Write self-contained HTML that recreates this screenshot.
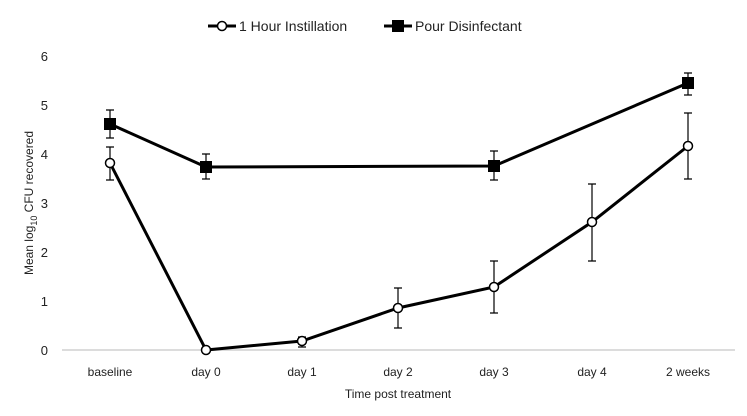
<!DOCTYPE html>
<html><head><meta charset="utf-8"><style>
body{margin:0;background:#fff}
svg{display:block;font-family:"Liberation Sans",sans-serif}
</style></head><body>
<svg width="747" height="416" viewBox="0 0 747 416">
<rect width="747" height="416" fill="#fff"/>
<line x1="62" y1="350" x2="735" y2="350" stroke="#d0d0d0" stroke-width="1.5"/>
<g font-size="13" fill="#222" text-anchor="end">
<text x="48" y="355">0</text><text x="48" y="306">1</text><text x="48" y="257">2</text>
<text x="48" y="208">3</text><text x="48" y="159">4</text><text x="48" y="110">5</text><text x="48" y="61">6</text>
</g>
<g font-size="12" fill="#222" text-anchor="middle">
<text x="110" y="376">baseline</text><text x="206" y="376">day 0</text><text x="302" y="376">day 1</text>
<text x="398" y="376">day 2</text><text x="494" y="376">day 3</text><text x="592" y="376">day 4</text><text x="688" y="376">2 weeks</text>
<text x="398" y="398">Time post treatment</text>
</g>
<text transform="translate(33,203) rotate(-90)" font-size="12" fill="#222" text-anchor="middle">Mean log<tspan font-size="9" dy="4">10</tspan><tspan dy="-4"> CFU recovered</tspan></text>
<g stroke="#000" stroke-width="1.2" fill="none">
<path d="M110 138V110M106 138h8M106 110h8"/>
<path d="M206 179V154M202 179h8M202 154h8"/>
<path d="M494 180V151M490 180h8M490 151h8"/>
<path d="M688 95V73M684 95h8M684 73h8"/>
<path d="M110 180V147M106 180h8M106 147h8"/>
<path d="M302 347V337M298 347h8M298 337h8"/>
<path d="M398 328V288M394 328h8M394 288h8"/>
<path d="M494 313V261M490 313h8M490 261h8"/>
<path d="M592 261V184M588 261h8M588 184h8"/>
<path d="M688 179V113M684 179h8M684 113h8"/>
</g>
<polyline points="110,124 206,167 494,166 688,83" fill="none" stroke="#000" stroke-width="3"/>
<g fill="#000"><rect x="104" y="118" width="12" height="12"/><rect x="200" y="161" width="12" height="12"/><rect x="488" y="160" width="12" height="12"/><rect x="682" y="77" width="12" height="12"/></g>
<polyline points="110,163 206,350 302,341 398,308 494,287 592,222 688,146" fill="none" stroke="#000" stroke-width="3"/>
<g fill="#fff" stroke="#000" stroke-width="1.5">
<circle cx="110" cy="163" r="4.5"/><circle cx="206" cy="350" r="4.5"/><circle cx="302" cy="341" r="4.5"/><circle cx="398" cy="308" r="4.5"/><circle cx="494" cy="287" r="4.5"/><circle cx="592" cy="222" r="4.5"/><circle cx="688" cy="146" r="4.5"/>
</g>
<line x1="208" y1="26" x2="236" y2="26" stroke="#000" stroke-width="3"/>
<circle cx="222" cy="26" r="4.5" fill="#fff" stroke="#000" stroke-width="1.5"/>
<text x="239" y="31" font-size="14" fill="#222">1 Hour Instillation</text>
<line x1="384" y1="26" x2="412" y2="26" stroke="#000" stroke-width="3"/>
<rect x="392" y="20" width="12" height="12" fill="#000"/>
<text x="415" y="31" font-size="14" fill="#222">Pour Disinfectant</text>
</svg>
</body></html>
